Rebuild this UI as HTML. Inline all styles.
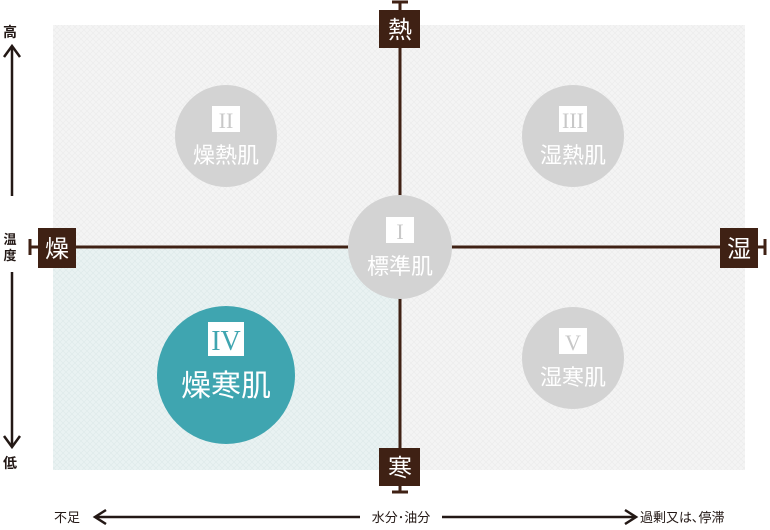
<!DOCTYPE html>
<html><head><meta charset="utf-8"><style>
body{margin:0;width:770px;height:525px;background:#fff;overflow:hidden;font-family:"Liberation Sans","Noto Sans CJK JP",sans-serif}
</style></head><body>
<svg width="770" height="525" viewBox="0 0 770 525" xmlns="http://www.w3.org/2000/svg" font-family="Liberation Sans, Noto Sans CJK JP, sans-serif">
<defs>
<pattern id="p1" width="6" height="6" patternUnits="userSpaceOnUse"><rect width="6" height="6" fill="#f4f4f4"/><path d="M0 0L6 6M6 0L0 6" stroke="#ececec" stroke-width="0.6"/></pattern>
<pattern id="p2" width="6" height="6" patternUnits="userSpaceOnUse"><rect width="6" height="6" fill="#e9f2f2"/><path d="M0 0L6 6M6 0L0 6" stroke="#dde9ea" stroke-width="0.6"/></pattern>
</defs>
<rect x="53" y="25" width="692" height="445" fill="url(#p1)"/>
<rect x="53" y="247" width="347" height="223" fill="url(#p2)"/>
<g stroke="#3f2114" stroke-width="3" fill="none">
<line x1="400" y1="2" x2="400" y2="492"/>
<line x1="392" y1="2" x2="408" y2="2"/>
<line x1="392" y1="492" x2="408" y2="492"/>
<line x1="30" y1="247" x2="765" y2="247"/>
<line x1="30" y1="239" x2="30" y2="255"/>
<line x1="765" y1="239" x2="765" y2="255"/>
</g>
<g fill="#3f2114">
<rect x="379" y="10" width="41" height="38"/>
<rect x="379" y="448" width="41" height="38"/>
<rect x="38" y="228" width="38" height="40"/>
<rect x="720" y="228" width="38" height="40"/>
</g>
<g fill="#fff" font-size="24" text-anchor="middle">
<text x="400" y="38">熱</text>
<text x="400" y="476">寒</text>
<text x="57" y="257">燥</text>
<text x="739" y="257">湿</text>
</g>
<g fill="#d3d3d3">
<circle cx="226" cy="136" r="51"/>
<circle cx="573" cy="136" r="51"/>
<circle cx="400" cy="247" r="52"/>
<circle cx="573" cy="358" r="51"/>
</g>
<circle cx="226" cy="375" r="69" fill="#3fa5b0"/>
<g fill="#fff">
<rect x="212" y="106" width="28" height="26"/>
<rect x="559" y="106" width="28" height="26"/>
<rect x="386" y="217" width="28" height="26"/>
<rect x="559" y="328" width="28" height="26"/>
<rect x="208" y="322" width="36" height="34"/>
</g>
<g fill="#c8c8c8" font-family="Liberation Serif, serif" text-anchor="middle" font-size="22">
<text x="226" y="128">II</text>
<text x="573" y="128">III</text>
<text x="400" y="239">I</text>
<text x="573" y="350">V</text>
</g>
<text x="226" y="350" fill="#3fa5b0" font-family="Liberation Serif, serif" text-anchor="middle" font-size="28">IV</text>
<g fill="#fff" text-anchor="middle" font-size="22">
<text x="226" y="163">燥熱肌</text>
<text x="573" y="163">湿熱肌</text>
<text x="400" y="274">標準肌</text>
<text x="573" y="385">湿寒肌</text>
<text x="226" y="396" font-size="30">燥寒肌</text>
</g>
<g stroke="#231815" stroke-width="2.5" fill="none">
<line x1="12" y1="46" x2="12" y2="196"/>
<polyline points="4,57 12,46 20,57"/>
<line x1="12" y1="272" x2="12" y2="446"/>
<polyline points="4,436 12,447 20,436"/>
<line x1="95" y1="517" x2="360" y2="517"/>
<polyline points="106,510 95,517 106,524"/>
<line x1="442" y1="517" x2="636" y2="517"/>
<polyline points="625,510 636,517 625,524"/>
</g>
<g fill="#231815" font-size="14" font-weight="bold" text-anchor="middle">
<text x="10" y="37">高</text>
<text x="10" y="244" font-size="13">温</text>
<text x="10" y="260" font-size="13">度</text>
<text x="10" y="468">低</text>
</g>
<g fill="#231815" font-size="13">
<text x="54" y="522">不足</text>
<text x="401" y="522" text-anchor="middle">水分･油分</text>
<text x="640" y="522">過剰又は､停滞</text>
</g>
</svg>
</body></html>
